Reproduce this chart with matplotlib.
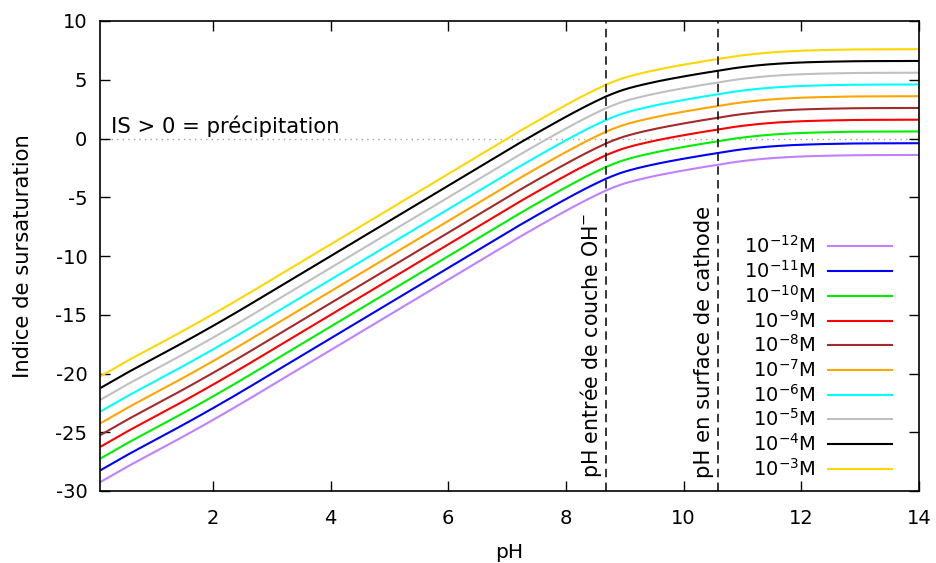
import matplotlib
matplotlib.use("Agg")
import matplotlib.pyplot as plt
import numpy as np

plt.rcParams['font.family'] = ['DejaVu Sans']
plt.rcParams['axes.unicode_minus'] = False
plt.rcParams['mathtext.default'] = 'regular'

# pH grid
ph = [0.1, 0.5, 1.0, 1.5, 2.0, 2.5, 3.0, 3.5, 4.0, 4.5, 5.0, 5.5, 6.0, 6.5,
      7.0, 7.5, 8.0, 8.3, 8.5, 8.7, 9.0, 9.5, 10.0, 10.5, 11.0, 11.5, 12.0,
      12.5, 13.0, 14.0]

# Saturation index for each concentration
si_1e3 = [-20.2, -19.05, -17.7, -16.35, -14.95, -13.5, -12.0, -10.5, -9.0, -7.5,
          -6.0, -4.5, -3.0, -1.5, 0.0, 1.45, 2.85, 3.65, 4.15, 4.62, 5.18, 5.8,
          6.28, 6.7, 7.08, 7.33, 7.47, 7.54, 7.58, 7.6]
si_1e4 = [-21.2, -20.05, -18.7, -17.35, -15.95, -14.5, -13.0, -11.5, -10.0, -8.5,
          -7.0, -5.5, -4.0, -2.5, -1.0, 0.45, 1.85, 2.65, 3.15, 3.62, 4.18, 4.8,
          5.28, 5.7, 6.08, 6.33, 6.47, 6.54, 6.58, 6.6]
si_1e5 = [-22.2, -21.05, -19.7, -18.35, -16.95, -15.5, -14.0, -12.5, -11.0, -9.5,
          -8.0, -6.5, -5.0, -3.5, -2.0, -0.55, 0.85, 1.65, 2.15, 2.62, 3.18, 3.8,
          4.28, 4.7, 5.08, 5.33, 5.47, 5.54, 5.58, 5.6]
si_1e6 = [-23.2, -22.05, -20.7, -19.35, -17.95, -16.5, -15.0, -13.5, -12.0, -10.5,
          -9.0, -7.5, -6.0, -4.5, -3.0, -1.55, -0.15, 0.65, 1.15, 1.62, 2.18, 2.8,
          3.28, 3.7, 4.08, 4.33, 4.47, 4.54, 4.58, 4.6]
si_1e7 = [-24.2, -23.05, -21.7, -20.35, -18.95, -17.5, -16.0, -14.5, -13.0, -11.5,
          -10.0, -8.5, -7.0, -5.5, -4.0, -2.55, -1.15, -0.35, 0.15, 0.62, 1.18, 1.8,
          2.28, 2.7, 3.08, 3.33, 3.47, 3.54, 3.58, 3.6]
si_1e8 = [-25.2, -24.05, -22.7, -21.35, -19.95, -18.5, -17.0, -15.5, -14.0, -12.5,
          -11.0, -9.5, -8.0, -6.5, -5.0, -3.55, -2.15, -1.35, -0.85, -0.38, 0.18, 0.8,
          1.28, 1.7, 2.08, 2.33, 2.47, 2.54, 2.58, 2.6]
si_1e9 = [-26.2, -25.05, -23.7, -22.35, -20.95, -19.5, -18.0, -16.5, -15.0, -13.5,
          -12.0, -10.5, -9.0, -7.5, -6.0, -4.55, -3.15, -2.35, -1.85, -1.38, -0.82, -0.2,
          0.28, 0.7, 1.08, 1.33, 1.47, 1.54, 1.58, 1.6]
si_1e10 = [-27.2, -26.05, -24.7, -23.35, -21.95, -20.5, -19.0, -17.5, -16.0, -14.5,
           -13.0, -11.5, -10.0, -8.5, -7.0, -5.55, -4.15, -3.35, -2.85, -2.38, -1.82, -1.2,
           -0.72, -0.3, 0.08, 0.33, 0.47, 0.54, 0.58, 0.6]
si_1e11 = [-28.2, -27.05, -25.7, -24.35, -22.95, -21.5, -20.0, -18.5, -17.0, -15.5,
           -14.0, -12.5, -11.0, -9.5, -8.0, -6.55, -5.15, -4.35, -3.85, -3.38, -2.82, -2.2,
           -1.72, -1.3, -0.92, -0.67, -0.53, -0.46, -0.42, -0.4]
si_1e12 = [-29.2, -28.05, -26.7, -25.35, -23.95, -22.5, -21.0, -19.5, -18.0, -16.5,
           -15.0, -13.5, -12.0, -10.5, -9.0, -7.55, -6.15, -5.35, -4.85, -4.38, -3.82, -3.2,
           -2.72, -2.3, -1.92, -1.67, -1.53, -1.46, -1.42, -1.4]

labels = [r'10$^{-12}$M', r'10$^{-11}$M', r'10$^{-10}$M', r'10$^{-9}$M', r'10$^{-8}$M',
          r'10$^{-7}$M', r'10$^{-6}$M', r'10$^{-5}$M', r'10$^{-4}$M', r'10$^{-3}$M']
series = [si_1e12, si_1e11, si_1e10, si_1e9, si_1e8, si_1e7, si_1e6, si_1e5, si_1e4, si_1e3]
colors = ['#c080ff', '#0000ff', '#00ee00', '#ff0000', '#a52a2a',
          '#ffa500', '#00ffff', '#c0c0c0', '#000000', '#ffd700']

ph_oh_layer = 8.68
ph_cathode = 10.59

xticks = [2, 4, 6, 8, 10, 12, 14]
yticks = [-30, -25, -20, -15, -10, -5, 0, 5, 10]


def hermite_smooth(x, y, n=800):
    """Smooth monotone cubic Hermite curve through the read points."""
    x = np.asarray(x, float)
    y = np.asarray(y, float)
    h = np.diff(x)
    d = np.diff(y) / h
    m = np.zeros_like(y)
    m[0] = d[0]
    m[-1] = d[-1]
    for i in range(1, len(x) - 1):
        if d[i - 1] * d[i] <= 0:
            m[i] = 0.0
        else:
            w1 = 2 * h[i] + h[i - 1]
            w2 = h[i] + 2 * h[i - 1]
            m[i] = (w1 + w2) / (w1 / d[i - 1] + w2 / d[i])
    xs = np.linspace(x[0], x[-1], n)
    idx = np.clip(np.searchsorted(x, xs) - 1, 0, len(x) - 2)
    t = (xs - x[idx]) / h[idx]
    h00 = 2 * t**3 - 3 * t**2 + 1
    h10 = t**3 - 2 * t**2 + t
    h01 = -2 * t**3 + 3 * t**2
    h11 = t**3 - t**2
    ys = (h00 * y[idx] + h10 * h[idx] * m[idx] + h01 * y[idx + 1]
          + h11 * h[idx] * m[idx + 1])
    return xs, ys


fig = plt.figure(figsize=(9.36, 5.63), dpi=100)
ax = fig.add_axes([100/936, 1 - 491/563, 819/936, 470/563])

for y, c, lab in zip(series, colors, labels):
    xs, ys = hermite_smooth(ph, y)
    ax.plot(xs, ys, color=c, lw=1.5, label=lab)

ax.axhline(0, color='#a0a0a0', lw=1.0, ls=(0, (1, 3)), zorder=0)
ax.axvline(ph_oh_layer, color='black', lw=1.1, ls=(0, (5.5, 3.5)))
ax.axvline(ph_cathode, color='black', lw=1.1, ls=(0, (5.5, 3.5)))

ax.text(0.27, 0.45, 'IS > 0 = précipitation', fontsize=15.2, ha='left', va='baseline')
ax.text(ph_oh_layer - 0.04, -28.9, r'pH entrée de couche OH$^{-}$', fontsize=14.8,
        rotation=90, ha='right', va='bottom')
ax.text(ph_cathode - 0.08, -28.9, 'pH en surface de cathode', fontsize=15.2,
        rotation=90, ha='right', va='bottom')

ax.set_xlim(0.08, 14)
ax.set_ylim(-30, 10)
ax.set_xticks(xticks)
ax.set_yticks(yticks)
ax.tick_params(direction='in', length=7, width=1, labelsize=14, top=True, right=True)
ax.tick_params(axis='x', pad=13)
ax.tick_params(axis='y', pad=9)
for s in ax.spines.values():
    s.set_linewidth(1.2)
ax.set_xlabel('pH', fontsize=14.5, labelpad=11)
ax.set_ylabel('Indice de sursaturation', fontsize=15.2, labelpad=16)

leg = ax.legend(loc='lower right', bbox_to_anchor=(0.967, 0.024), frameon=False,
                markerfirst=False, fontsize=14, handlelength=3.3, handletextpad=0.65,
                labelspacing=0.145, borderpad=0, borderaxespad=0)

fig.savefig('out.png', dpi=100)
